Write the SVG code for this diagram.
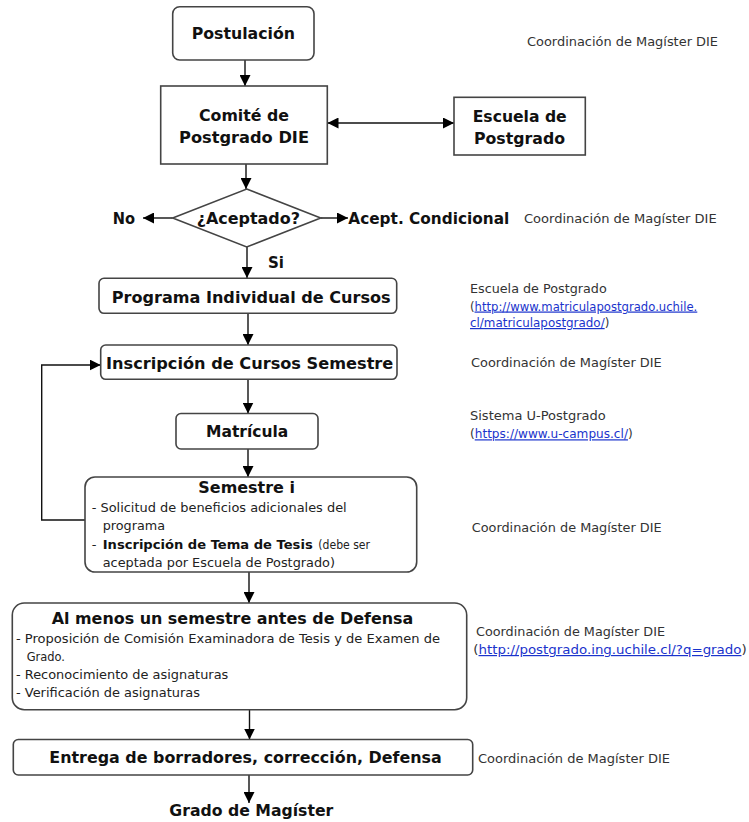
<svg xmlns="http://www.w3.org/2000/svg" width="749" height="822" viewBox="0 0 749 822">
<defs>
<marker id="ah" markerUnits="userSpaceOnUse" markerWidth="12" markerHeight="11" refX="11" refY="5.5" orient="auto-start-reverse">
<path d="M0,0 L11,5.5 L0,11 z" fill="#000"/>
</marker>
<style>
.box{fill:#fff;stroke:#444;stroke-width:1.6}
.conn{fill:none;stroke:#111;stroke-width:1.4}
.b{font-family:"DejaVu Sans","Liberation Sans",sans-serif;font-weight:bold;fill:#111}
.r{font-family:"DejaVu Sans","Liberation Sans",sans-serif;fill:#222}
.n{font-family:"DejaVu Sans","Liberation Sans",sans-serif;font-size:12px;fill:#333}
.lk{fill:#1a33cc;text-decoration:underline}
</style>
</defs>
<rect width="749" height="822" fill="#fff"/>

<g id="connectors">
<line class="conn" x1="245" y1="60" x2="245" y2="86" marker-end="url(#ah)"/>
<line class="conn" x1="327.5" y1="123" x2="454" y2="123" marker-start="url(#ah)" marker-end="url(#ah)"/>
<line class="conn" x1="246" y1="164" x2="246" y2="189" marker-end="url(#ah)"/>
<line class="conn" x1="172.7" y1="218" x2="143" y2="218" marker-end="url(#ah)"/>
<line class="conn" x1="320.7" y1="218" x2="348" y2="218" marker-end="url(#ah)"/>
<line class="conn" x1="247" y1="247" x2="247" y2="278" marker-end="url(#ah)"/>
<line class="conn" x1="248" y1="313.5" x2="248" y2="345" marker-end="url(#ah)"/>
<line class="conn" x1="248" y1="379.5" x2="248" y2="413.5" marker-end="url(#ah)"/>
<line class="conn" x1="248" y1="449" x2="248" y2="477" marker-end="url(#ah)"/>
<polyline class="conn" points="85,520 41.7,520 41.7,365 100.7,365" marker-end="url(#ah)"/>
<line class="conn" x1="249" y1="572" x2="249" y2="603" marker-end="url(#ah)"/>
<line class="conn" x1="249.5" y1="709.5" x2="249.5" y2="739.5" marker-end="url(#ah)"/>
<line class="conn" x1="249" y1="775" x2="249" y2="803" marker-end="url(#ah)"/>
</g>

<g id="postulacion">
<rect class="box" x="172.7" y="6.7" width="141.3" height="53.3" rx="7"/>
<text class="b" x="191.7" y="39.3" font-size="16" textLength="103.3" lengthAdjust="spacingAndGlyphs">Postulación</text>
</g>

<g id="comite">
<rect class="box" x="160.7" y="86" width="166.6" height="78"/>
<text class="b" x="199" y="120.7" font-size="16" textLength="90" lengthAdjust="spacingAndGlyphs">Comité de</text>
<text class="b" x="179" y="143.3" font-size="16" textLength="130" lengthAdjust="spacingAndGlyphs">Postgrado DIE</text>
</g>

<g id="escuela">
<rect class="box" x="454" y="97.3" width="131.3" height="57.7"/>
<text class="b" x="472.7" y="121.7" font-size="16" textLength="94" lengthAdjust="spacingAndGlyphs">Escuela de</text>
<text class="b" x="474" y="144" font-size="16" textLength="91" lengthAdjust="spacingAndGlyphs">Postgrado</text>
</g>

<g id="aceptado">
<polygon class="box" points="246.7,189 320.7,218 246.7,247 172.7,218"/>
<text class="b" x="196.7" y="224" font-size="16" textLength="103.3" lengthAdjust="spacingAndGlyphs">¿Aceptado?</text>
</g>

<g id="no">
<text class="b" x="112.7" y="224" font-size="16" textLength="22.3" lengthAdjust="spacingAndGlyphs">No</text>
</g>

<g id="acept-condicional">
<text class="b" x="348.3" y="224" font-size="16" textLength="161" lengthAdjust="spacingAndGlyphs">Acept. Condicional</text>
</g>

<g id="si-label">
<text class="b" x="268" y="268" font-size="16" textLength="16" lengthAdjust="spacingAndGlyphs">Si</text>
</g>

<g id="programa">
<rect class="box" x="99" y="278.3" width="297.7" height="35" rx="5"/>
<text class="b" x="111.7" y="303.3" font-size="16.5" textLength="279" lengthAdjust="spacingAndGlyphs">Programa Individual de Cursos</text>
</g>

<g id="inscripcion">
<rect class="box" x="100.7" y="345" width="296.3" height="34.3" rx="5"/>
<text class="b" x="106" y="369" font-size="16.5" textLength="287.3" lengthAdjust="spacingAndGlyphs">Inscripción de Cursos Semestre</text>
</g>

<g id="matricula">
<rect class="box" x="176" y="413.5" width="142" height="35.5" rx="5"/>
<text class="b" x="206" y="437.3" font-size="16.5" textLength="82.3" lengthAdjust="spacingAndGlyphs">Matrícula</text>
</g>

<g id="semestre">
<rect class="box" x="85" y="477" width="331.7" height="95" rx="10"/>
<text class="b" x="198.3" y="493.3" font-size="15" textLength="96.7" lengthAdjust="spacingAndGlyphs">Semestre i</text>
<text class="r" x="91.7" y="511.7" font-size="13" textLength="255" lengthAdjust="spacingAndGlyphs">- Solicitud de beneficios adicionales del</text>
<text class="r" x="102.7" y="530" font-size="13" textLength="62.3" lengthAdjust="spacingAndGlyphs">programa</text>
<text class="r" x="91.7" y="548.5" font-size="13">-</text>
<text class="b" x="102.7" y="548.5" font-size="13" textLength="210" lengthAdjust="spacingAndGlyphs">Inscripción de Tema de Tesis</text>
<text class="r" x="318.3" y="548.5" font-size="13" textLength="51.7" lengthAdjust="spacingAndGlyphs">(debe ser</text>
<text class="r" x="102.7" y="567" font-size="13" textLength="232.3" lengthAdjust="spacingAndGlyphs">aceptada por Escuela de Postgrado)</text>
</g>

<g id="al-menos">
<rect class="box" x="12.3" y="603" width="454.4" height="106.7" rx="12"/>
<text class="b" x="51.7" y="624" font-size="15.5" textLength="361.6" lengthAdjust="spacingAndGlyphs">Al menos un semestre antes de Defensa</text>
<text class="r" x="16" y="643" font-size="12.5" textLength="424" lengthAdjust="spacingAndGlyphs">- Proposición de Comisión Examinadora de Tesis y de Examen de</text>
<text class="r" x="26.7" y="661" font-size="12.5" textLength="38.3" lengthAdjust="spacingAndGlyphs">Grado.</text>
<text class="r" x="16" y="679" font-size="12.5" textLength="212.3" lengthAdjust="spacingAndGlyphs">- Reconocimiento de asignaturas</text>
<text class="r" x="16" y="697" font-size="12.5" textLength="184" lengthAdjust="spacingAndGlyphs">- Verificación de asignaturas</text>
</g>

<g id="entrega">
<rect class="box" x="13.3" y="739.5" width="459.4" height="35.5" rx="5"/>
<text class="b" x="49.3" y="763.3" font-size="15.5" textLength="392.4" lengthAdjust="spacingAndGlyphs">Entrega de borradores, corrección, Defensa</text>
</g>

<g id="grado">
<text class="b" x="169.3" y="816" font-size="15.5" textLength="164" lengthAdjust="spacingAndGlyphs">Grado de Magíster</text>
</g>

<g id="notes">
<text class="n" x="527" y="46" textLength="191" lengthAdjust="spacingAndGlyphs">Coordinación de Magíster DIE</text>
<text class="n" x="524" y="222.5" textLength="192.7" lengthAdjust="spacingAndGlyphs">Coordinación de Magíster DIE</text>
<text class="n" x="470" y="293.3" textLength="136.7" lengthAdjust="spacingAndGlyphs">Escuela de Postgrado</text>
<text class="n" x="470" y="310.5" textLength="227.3" lengthAdjust="spacingAndGlyphs">(<tspan class="lk">http://www.matriculapostgrado.uchile.</tspan></text>
<text class="n" x="470" y="327" textLength="139.3" lengthAdjust="spacingAndGlyphs"><tspan class="lk">cl/matriculapostgrado/</tspan>)</text>
<text class="n" x="471" y="366.7" textLength="190.7" lengthAdjust="spacingAndGlyphs">Coordinación de Magíster DIE</text>
<text class="n" x="470" y="420" textLength="135.7" lengthAdjust="spacingAndGlyphs">Sistema U-Postgrado</text>
<text class="n" x="470" y="438.3" textLength="162.7" lengthAdjust="spacingAndGlyphs">(<tspan class="lk">https://www.u-campus.cl/</tspan>)</text>
<text class="n" x="471.7" y="531.7" textLength="190" lengthAdjust="spacingAndGlyphs">Coordinación de Magíster DIE</text>
<text class="n" x="476" y="636" textLength="189" lengthAdjust="spacingAndGlyphs">Coordinación de Magíster DIE</text>
<text class="n" x="473.3" y="654" textLength="273.4" lengthAdjust="spacingAndGlyphs">(<tspan class="lk">http://postgrado.ing.uchile.cl/?q=grado</tspan>)</text>
<text class="n" x="478" y="762.5" textLength="192" lengthAdjust="spacingAndGlyphs">Coordinación de Magíster DIE</text>
</g>
</svg>
